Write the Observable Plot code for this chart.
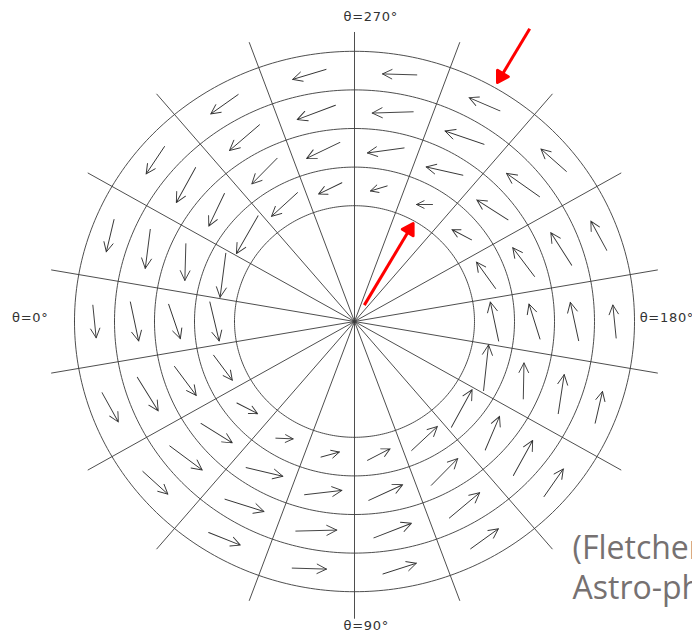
<!DOCTYPE html>
<html>
<head>
<meta charset="utf-8">
<script src="https://cdn.jsdelivr.net/npm/d3@7"></script>
<script src="https://cdn.jsdelivr.net/npm/@observablehq/plot@0.6"></script>
<style>
  html, body { margin: 0; padding: 0; background: #fff; overflow: hidden; }
  /* axis labels are set slightly spaced out */
  #chart g[font-size="13"] text { letter-spacing: 0.7px; }
</style>
</head>
<body>
<div id="chart"></div>
<script>
// Polar grid: sector centres, sector boundaries (spokes) and ring radii
const sectorTheta = [0, 20, 40, 60, 80, 100, 120, 140, 160, 180, 200, 220, 240, 260, 280, 300, 320, 340];
const spokeTheta = [10, 30, 50, 70, 90, 110, 130, 150, 170, 190, 210, 230, 250, 270, 290, 310, 330, 350];
const ringRadius = [3, 4, 5, 6, 7];
const annulusRadius = [3.5, 4.5, 5.5, 6.5];

// Flow direction (degrees clockwise from up) per sector, one list per annulus
const direction35 = [166.6, 143.2, 117.3, 92.3, 74.7, 62.7, 47.0, 28.8, 6.2, 348.0, 324.2, 297.6, 270.0, 253.3, 244.1, 227.6, 209.9, 187.4];
const direction45 = [161.2, 143.2, 121.7, 103.3, 83.4, 65.2, 44.6, 23.0, 1.1, 342.6, 322.9, 302.6, 282.7, 262.2, 244.3, 224.6, 205.6, 181.6];
const direction55 = [168.0, 148.1, 126.6, 107.5, 88.6, 68.7, 50.1, 28.9, 8.7, 347.8, 327.3, 305.2, 288.8, 268.2, 249.5, 229.4, 208.9, 187.3];
const direction65 = [174.2, 150.9, 132.2, 111.8, 91.7, 72.2, 54.2, 34.9, 13.0, 354.3, 331.4, 311.4, 293.2, 271.7, 253.3, 234.7, 213.8, 193.4];

// Flow speed per sector, one list per annulus
const speed35 = [4.01, 3.12, 2.33, 1.73, 1.90, 2.55, 3.51, 4.30, 4.60, 3.99, 3.25, 2.22, 1.60, 1.74, 2.60, 3.52, 4.35, 4.44];
const speed45 = [3.63, 3.62, 3.68, 3.77, 3.76, 3.74, 3.75, 3.66, 3.60, 3.67, 3.60, 3.72, 3.76, 3.70, 3.70, 3.60, 3.62, 3.67];
const speed55 = [3.99, 3.97, 4.03, 4.09, 4.10, 4.04, 3.95, 4.00, 3.95, 3.92, 3.88, 4.04, 4.12, 4.10, 4.09, 3.95, 4.00, 3.93];
const speed65 = [3.28, 3.36, 3.38, 3.41, 3.43, 3.50, 3.41, 3.37, 3.25, 3.32, 3.34, 3.38, 3.37, 3.43, 3.48, 3.35, 3.29, 3.32];

// Axis labels
const axisLabels = ["θ=0°", "θ=90°", "θ=180°", "θ=270°"];
const axisLabelTheta = [0, 90, 180, 270];

// Red pointers (radial, from tail radius to tip radius)
const pointerTheta = [240, 240];
const pointerTail = [0.49, 8.76];
const pointerTip = [2.93, 7.15];

// Reference note
const noteLines = ["(Fletcher", "Astro-ph"];

// ---- geometry helpers -------------------------------------------------
const W = 692, H = 639;
const xDomain = [-8.85, 8.45];
const yDomain = [-8.238, 8.316];
const rad = (d) => (d * Math.PI) / 180;
// θ = 0 to the left, 90 down, 180 right, 270 up
const px = (t, r) => -r * Math.cos(rad(t));
const py = (t, r) => -r * Math.sin(rad(t));

const xs = Plot.scale({x: {domain: xDomain, range: [0, W]}});
const ys = Plot.scale({y: {domain: yDomain, range: [H, 0]}});

const circles = ringRadius.flatMap((r) =>
  d3.range(0, 361, 1).map((a) => ({r, x: px(a, r), y: py(a, r)}))
);

const spokes = spokeTheta.map((t) => {
  const reach = t === 270 ? 7.5 : 7.7;
  return {x2: px(t, reach), y2: py(t, reach)};
});

const directions = [direction35, direction45, direction55, direction65];
const speeds = [speed35, speed45, speed55, speed65];
const field = annulusRadius.flatMap((r, i) =>
  sectorTheta.map((t, j) => ({
    x: px(t, r),
    y: py(t, r),
    dir: directions[i][j],
    speed: speeds[i][j]
  }))
);

const pointers = pointerTheta.map((t, i) => {
  const r0 = pointerTail[i], r1 = pointerTip[i];
  const inward = r1 < r0 ? 1 : -1;
  const rShaft = r1 + inward * 0.2;
  const X0 = xs.apply(px(t, r0)), Y0 = ys.apply(py(t, r0));
  const X1 = xs.apply(px(t, r1)), Y1 = ys.apply(py(t, r1));
  return {
    x1: px(t, r0), y1: py(t, r0),
    x2: px(t, rShaft), y2: py(t, rShaft),
    tx: px(t, r1), ty: py(t, r1),
    rotate: (Math.atan2(X1 - X0, Y0 - Y1) * 180) / Math.PI
  };
});

const labels = axisLabels.map((text, i) => ({text, theta: axisLabelTheta[i]}));

// Open arrowhead for the flow vectors
const openArrow = {
  draw(context, l) {
    const h = Math.min(10, 6 + 0.1 * l), w = 0.5 * h;
    context.moveTo(0, 0);
    context.lineTo(0, -l);
    context.moveTo(-w, h - l);
    context.lineTo(0, -l);
    context.lineTo(w, h - l);
  }
};

// Solid triangular head for the pointers
const solidHead = {
  draw(context, l) {
    const w = 0.6 * l;
    context.moveTo(0, -l);
    context.lineTo(w, 0);
    context.lineTo(-w, 0);
    context.closePath();
  }
};

const labelFont = {fontFamily: "DejaVu Sans", fontSize: 13, fill: "#333"};

const chart = Plot.plot({
  width: W,
  height: H,
  margin: 0,
  style: {background: "#fff", overflow: "hidden"},
  x: {domain: xDomain, range: [0, W], axis: null},
  y: {domain: yDomain, range: [H, 0], axis: null},
  length: {type: "linear", domain: [0, 5], range: [0, 50]},
  marks: [
    Plot.line(circles, {x: "x", y: "y", z: "r", stroke: "#3a3a3a", strokeWidth: 0.9}),
    Plot.link(spokes, {x1: () => 0, y1: () => 0, x2: "x2", y2: "y2", stroke: "#3a3a3a", strokeWidth: 0.9}),
    Plot.vector(field, {
      x: "x", y: "y", rotate: "dir", length: "speed",
      anchor: "middle", shape: openArrow, stroke: "#333", strokeWidth: 0.9
    }),
    Plot.link(pointers, {x1: "x1", y1: "y1", x2: "x2", y2: "y2", stroke: "#ff0000", strokeWidth: 3}),
    Plot.vector(pointers, {
      x: "tx", y: "ty", rotate: "rotate", length: 10.5, anchor: "end",
      shape: solidHead, fill: "#ff0000", stroke: "#ff0000", strokeWidth: 3, strokeLinejoin: "round"
    }),
    // θ = 90° and 270° labels sit beside the vertical axis
    Plot.text(labels.filter((d) => d.theta === 90 || d.theta === 270), {
      x: (d) => px(d.theta, 7.89), y: (d) => py(d.theta, 7.89), text: "text",
      textAnchor: "start", dx: -11, ...labelFont
    }),
    Plot.text(labels.filter((d) => d.theta === 180), {
      x: (d) => px(d.theta, 7.13), y: (d) => py(d.theta, 7.13), text: "text",
      textAnchor: "start", dy: -4, ...labelFont
    }),
    Plot.text(labels.filter((d) => d.theta === 0), {
      x: (d) => px(d.theta, 7.65), y: (d) => py(d.theta, 7.65), text: "text",
      textAnchor: "end", dy: -4, ...labelFont
    }),
    Plot.text([noteLines.join("\n")], {
      frameAnchor: "top-left", dx: 572, dy: 530,
      textAnchor: "start", lineAnchor: "top", lineHeight: 1.25,
      fontFamily: "Open Sans", fontSize: 32, fill: "#767171"
    })
  ]
});

document.getElementById("chart").append(chart);
</script>
</body>
</html>
